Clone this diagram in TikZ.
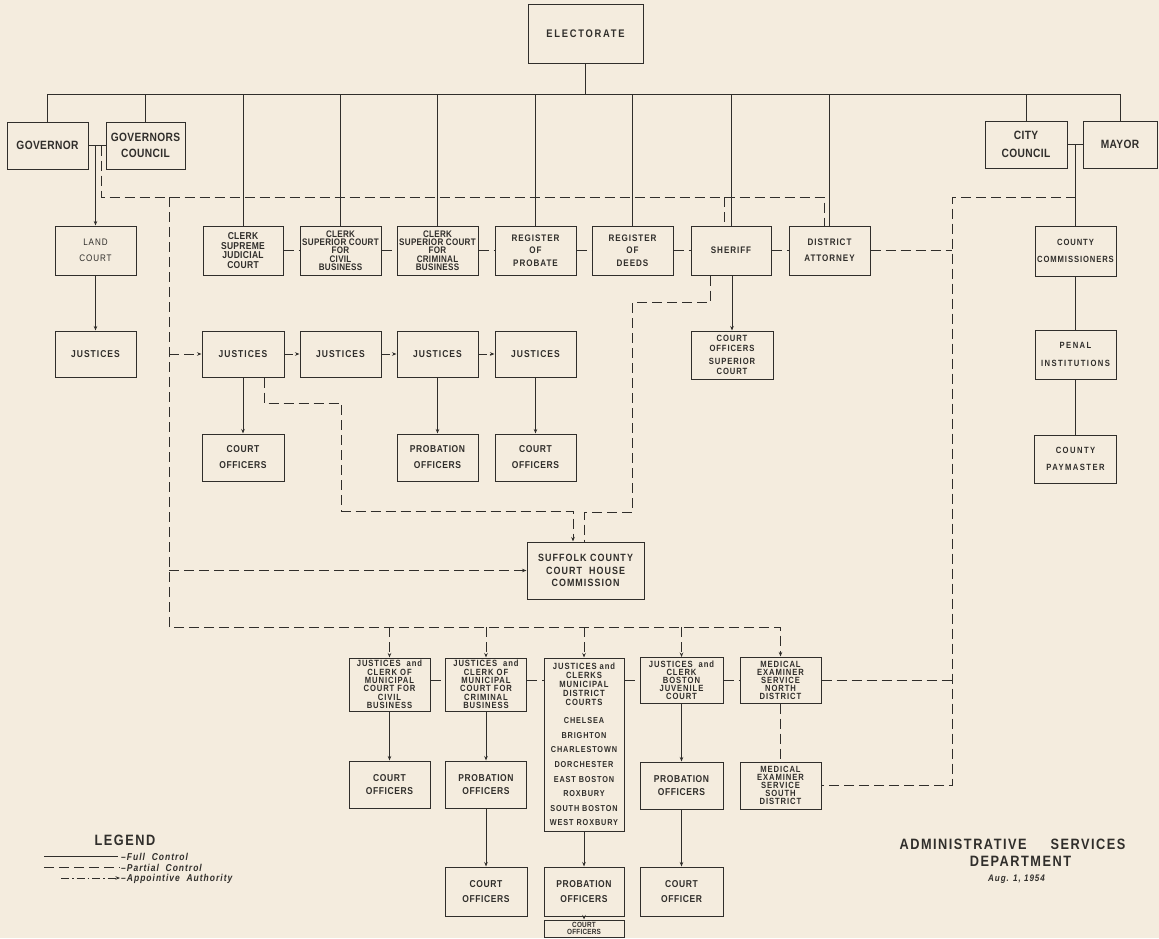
\documentclass[tikz,border=0pt]{standalone}
\usepackage{fontspec}
\setmainfont{Liberation Sans}
\newfontfamily\fn[FakeStretch=0.85,LetterSpace=3]{Liberation Sans}
\newfontfamily\fm[FakeStretch=0.85,LetterSpace=6]{Liberation Sans}
\newfontfamily\fw[FakeStretch=0.85,LetterSpace=10]{Liberation Sans}
\newfontfamily\fx[FakeStretch=0.85,LetterSpace=16]{Liberation Sans}
\newcommand\distfont{\fontsize{8.6}{9}\selectfont}
\usetikzlibrary{arrows.meta}
\definecolor{paper}{RGB}{244,236,222}
\definecolor{ink}{RGB}{48,46,43}
\begin{document}
\begin{tikzpicture}[x=1pt,y=-1pt,
  box/.style={draw=ink, line width=1pt, inner sep=0pt, align=center, text=ink},
  wh/.style 2 args={minimum width=#1pt, minimum height=#2pt},
  fbig/.style={font=\fn\bfseries\fontsize{12}{#1}\selectfont},
  ftwo/.style={font=\fm\bfseries\fontsize{10}{#1}\selectfont},
  fmany/.style={font=\fn\bfseries\fontsize{9.5}{#1}\selectfont},
  fmid/.style={font=\fw\bfseries\fontsize{9.5}{#1}\selectfont},
  fsm/.style={font=\fw\bfseries\fontsize{9}{#1}\selectfont},
  full/.style={draw=ink, line width=1pt},
  part/.style={draw=ink, line width=1pt, dash pattern=on 10pt off 5pt},
  appt/.style={draw=ink, line width=1pt, dash pattern=on 8pt off 3pt on 1.5pt off 3pt},
  arr/.style={-{Stealth[length=4.5pt,width=3.5pt]}},
  lbl/.style={text=ink, inner sep=0pt}
]
\fill[paper] (0,0) rectangle (1159,938);
\useasboundingbox (0,0) rectangle (1159,938);

% ---------- top ----------
\node[box,wh={115}{59},font=\fx\bfseries\fontsize{11}{12}\selectfont] (elect) at (585.5,33.5) {ELECTORATE};
\node[box,wh={81}{47},fbig=16] (gov) at (47.5,145.5) {GOVERNOR};
\node[box,wh={79}{47},fbig=15.7] (gc) at (145.5,145.5) {GOVERNORS\\COUNCIL};
\node[box,wh={82}{47},fbig=18] (cc) at (1026,144.5) {CITY\\COUNCIL};
\node[box,wh={74}{47},fbig=16] (mayor) at (1120,144.5) {MAYOR};

% ---------- row 2 ----------
\node[box,wh={81}{49},font=\fw\fontsize{9.5}{16}\selectfont] (land) at (95.5,250.5) {LAND\\COURT};
\node[box,wh={80}{49},font=\fn\bfseries\fontsize{10}{9.5}\selectfont] (sjc) at (243,250.5) {CLERK\\SUPREME\\JUDICIAL\\COURT};
\node[box,wh={81}{49},fmany=8.3] (civil) at (340.5,250.5) {CLERK\\SUPERIOR COURT\\FOR\\CIVIL\\BUSINESS};
\node[box,wh={81}{49},fmany=8.3] (crim) at (437.5,250.5) {CLERK\\SUPERIOR COURT\\FOR\\CRIMINAL\\BUSINESS};
\node[box,wh={81}{49},fmid=12.5] (prob) at (535.5,250.5) {REGISTER\\OF\\PROBATE};
\node[box,wh={81}{49},fmid=12.5] (deeds) at (632.5,250.5) {REGISTER\\OF\\DEEDS};
\node[box,wh={80}{49},fmid=12] (sheriff) at (731,250.5) {SHERIFF};
\node[box,wh={81}{49},fmid=16] (da) at (829.5,250.5) {DISTRICT\\ATTORNEY};
\node[box,wh={81}{50},fsm=17] (ccomm) at (1075.5,251) {COUNTY\\COMMISSIONERS};

% ---------- row 3 ----------
\node[box,wh={81}{46},font=\fw\bfseries\fontsize{10}{12}\selectfont] (ljust) at (95.5,354) {JUSTICES};
\node[box,wh={82}{46},font=\fw\bfseries\fontsize{10}{12}\selectfont] (j1) at (243,354) {JUSTICES};
\node[box,wh={81}{46},font=\fw\bfseries\fontsize{10}{12}\selectfont] (j2) at (340.5,354) {JUSTICES};
\node[box,wh={81}{46},font=\fw\bfseries\fontsize{10}{12}\selectfont] (j3) at (437.5,354) {JUSTICES};
\node[box,wh={81}{46},font=\fw\bfseries\fontsize{10}{12}\selectfont] (j4) at (535.5,354) {JUSTICES};
\node[box,wh={82}{48},font=\fw\bfseries\fontsize{9}{9.5}\selectfont] (cosup) at (732,355) {COURT\\OFFICERS\\[4pt]SUPERIOR\\COURT};
\node[box,wh={81}{49},font=\fx\bfseries\fontsize{9}{17.5}\selectfont] (penal) at (1075.5,354.5) {PENAL\\INSTITUTIONS};

% ---------- row 4 ----------
\node[box,wh={82}{47},ftwo=16] (co1) at (243,457.5) {COURT\\OFFICERS};
\node[box,wh={81}{47},ftwo=16] (po3) at (437.5,457.5) {PROBATION\\OFFICERS};
\node[box,wh={81}{47},ftwo=16] (co4) at (535.5,457.5) {COURT\\OFFICERS};
\node[box,wh={82}{48},font=\fx\bfseries\fontsize{9}{17}\selectfont] (pay) at (1075.5,459) {COUNTY\\PAYMASTER};
\node[box,wh={117}{57},font=\fw\bfseries\fontsize{10.5}{12.6}\selectfont] (suffolk) at (585.5,570.5) {SUFFOLK COUNTY\\COURT\ \ HOUSE\\COMMISSION};

% ---------- bottom rows ----------
\node[box,wh={81}{53},fsm=8.3] (mcivil) at (389.5,684.5) {JUSTICES\ \ and\\CLERK OF\\MUNICIPAL\\COURT FOR\\CIVIL\\BUSINESS};
\node[box,wh={81}{53},fsm=8.3] (mcrim) at (486,684.5) {JUSTICES\ \ and\\CLERK OF\\MUNICIPAL\\COURT FOR\\CRIMINAL\\BUSINESS};
\node[box,wh={80}{173},font=\fw\bfseries\fontsize{9}{9}\selectfont] (mdist) at (584,744.5) {JUSTICES and\\CLERKS\\MUNICIPAL\\DISTRICT\\COURTS\\[9pt]\distfont CHELSEA\\[5.6pt]\distfont BRIGHTON\\[5.6pt]\distfont CHARLESTOWN\\[5.6pt]\distfont DORCHESTER\\[5.6pt]\distfont EAST BOSTON\\[5.6pt]\distfont ROXBURY\\[5.6pt]\distfont SOUTH BOSTON\\[5.6pt]\distfont WEST ROXBURY};
\node[box,wh={83}{46},fsm=8] (juv) at (681.5,680.5) {JUSTICES\ \ and\\CLERK\\BOSTON\\JUVENILE\\COURT};
\node[box,wh={81}{46},fsm=8] (medn) at (780.5,680) {MEDICAL\\EXAMINER\\SERVICE\\NORTH\\DISTRICT};
\node[box,wh={81}{47},fsm=8] (meds) at (780.5,785.5) {MEDICAL\\EXAMINER\\SERVICE\\SOUTH\\DISTRICT};

\node[box,wh={81}{47},ftwo=13] (co6a) at (389.5,784.5) {COURT\\OFFICERS};
\node[box,wh={81}{47},ftwo=13] (po6b) at (486,784.5) {PROBATION\\OFFICERS};
\node[box,wh={83}{47},ftwo=13] (po6d) at (681.5,785.5) {PROBATION\\OFFICERS};

\node[box,wh={82}{49},ftwo=14.7] (co7b) at (486,891.5) {COURT\\OFFICERS};
\node[box,wh={80}{49},ftwo=14.7] (po7c) at (584,891.5) {PROBATION\\OFFICERS};
\node[box,wh={83}{49},ftwo=14.7] (co7d) at (681.5,891.5) {COURT\\OFFICER};
\node[box,wh={80}{17},font=\fn\bfseries\fontsize{7.5}{7}\selectfont] (smallco) at (584,928.5) {COURT\\OFFICERS};

% ---------- full control lines ----------
\coordinate (busL) at (46,94);
\draw[full] (gov.north |- busL) -- (mayor.north |- busL);
\draw[full] (elect.south) -- (elect.south |- busL);
\foreach \n in {gov,gc,sjc,civil,crim,prob,deeds,sheriff,da,cc,mayor}
  \draw[full] (\n.north |- busL) -- (\n.north);
\draw[full] (gov.east) -- (gc.west);
\draw[full,arr] (land.north |- gov.east) -- (land.north);
\draw[full,arr] (land.south) -- (ljust.north);
\draw[full] (cc.east) -- (mayor.west);
\draw[full] (ccomm.north |- cc.east) -- (ccomm.north);
\draw[full] (ccomm.south) -- (penal.north);
\draw[full] (penal.south) -- (pay.north);
\draw[full,arr] (j1.south) -- (co1.north);
\draw[full,arr] (j3.south) -- (po3.north);
\draw[full,arr] (j4.south) -- (co4.north);
\draw[full,arr] (cosup.north |- sheriff.south) -- (cosup.north);
\draw[full,arr] (mcivil.south) -- (co6a.north);
\draw[full,arr] (mcrim.south) -- (po6b.north);
\draw[full,arr] (juv.south) -- (po6d.north);
\draw[full,arr] (po6b.south) -- (co7b.north);
\draw[full,arr] (mdist.south) -- (po7c.north);
\draw[full,arr] (po6d.south) -- (co7d.north);
\draw[full,arr] (po7c.south) -- (smallco.north);

% ---------- appointive (justices chain) ----------
\draw[appt,arr] (j1.east) -- (j2.west);
\draw[appt,arr] (j2.east) -- (j3.west);
\draw[appt,arr] (j3.east) -- (j4.west);

% ---------- partial control lines ----------
\coordinate (dA) at (101,197);
\coordinate (dS) at (724,197);
\coordinate (dB) at (824,197);
\draw[part] (gov.east -| dA) -- (dA) -- (dB) -- (dB |- da.north);
\draw[part] (dS) -- (dS |- sheriff.north);
\coordinate (dL) at (169,197);
\coordinate (dLb) at (169,627);
\draw[part,arr] (dL) -- (dLb) -- (dLb -| medn.north) -- (medn.north);
\foreach \n in {mcivil,mcrim,mdist,juv}
  \draw[part,arr] (\n.north |- dLb) -- (\n.north);
\draw[part,arr] (dLb |- j1.west) -- (j1.west);
\draw[part,arr] (dLb |- suffolk.west) -- (suffolk.west);

\coordinate (p1) at (264,403);
\coordinate (p2) at (341.5,403);
\coordinate (p3) at (341.5,511);
\coordinate (p4) at (573,511);
\draw[part,arr] (j1.south -| p1) -- (p1) -- (p2) -- (p3) -- (p4) -- (p4 |- suffolk.north);
\coordinate (s1) at (710,302);
\coordinate (s2) at (632.5,302);
\coordinate (s3) at (632.5,512);
\coordinate (s4) at (584,512);
\draw[part] (sheriff.south -| s1) -- (s1) -- (s2) -- (s3) -- (s4) -- (s4 |- suffolk.north);

\draw[part] (sjc.east) -- (civil.west);
\draw[part] (civil.east) -- (crim.west);
\draw[part] (crim.east) -- (prob.west);
\draw[part] (prob.east) -- (deeds.west);
\draw[part] (deeds.east) -- (sheriff.west);
\draw[part] (sheriff.east) -- (da.west);

\coordinate (r1) at (1075.5,197);
\coordinate (r2) at (952,197);
\coordinate (r3) at (952,785.5);
\draw[part] (r1) -- (r2) -- (r3) -- (meds.east);
\draw[part] (da.east) -- (da.east -| r2);
\draw[part] (medn.east) -- (medn.east -| r2);

\draw[part] (mcivil.east |- medn.west) -- (mcrim.west |- medn.west);
\draw[part] (mcrim.east |- medn.west) -- (mdist.west |- medn.west);
\draw[part] (mdist.east |- medn.west) -- (juv.west |- medn.west);
\draw[part] (juv.east |- medn.west) -- (medn.west);
\draw[part] (medn.south) -- (meds.north);

% ---------- legend ----------
\node[lbl, font=\fw\bfseries\fontsize{15}{15}\selectfont] (legend) at (125,840) {LEGEND};
\coordinate (la1) at (44,856);  \coordinate (lb1) at (118,856);
\coordinate (la2) at (44,867);  \coordinate (lb2) at (120,867);
\coordinate (la3) at (61,878);  \coordinate (lb3) at (120,878);
\draw[full] (la1) -- (lb1);
\draw[part] (la2) -- (lb2);
\draw[appt,arr] (la3) -- (lb3);
\node[lbl, anchor=west, font=\fw\bfseries\itshape\fontsize{10}{10}\selectfont] (lt1) at (121,856.5) {–Full\ \ Control};
\node[lbl, anchor=west, font=\fw\bfseries\itshape\fontsize{10}{10}\selectfont] (lt2) at (121,867.5) {–Partial\ \ Control};
\node[lbl, anchor=west, font=\fw\bfseries\itshape\fontsize{10}{10}\selectfont] (lt3) at (121,878.5) {–Appointive\ \ Authority};

% ---------- title ----------
\node[lbl, font=\fw\bfseries\fontsize{15}{15}\selectfont] (t1) at (1012.5,844) {ADMINISTRATIVE\hspace{24pt}SERVICES};
\node[lbl, font=\fw\bfseries\fontsize{15}{15}\selectfont] (t2) at (1020.5,861) {DEPARTMENT};
\node[lbl, font=\fw\bfseries\itshape\fontsize{9.5}{9.5}\selectfont] (t3) at (1016.5,879) {Aug. 1, 1954};
\end{tikzpicture}
\end{document}
